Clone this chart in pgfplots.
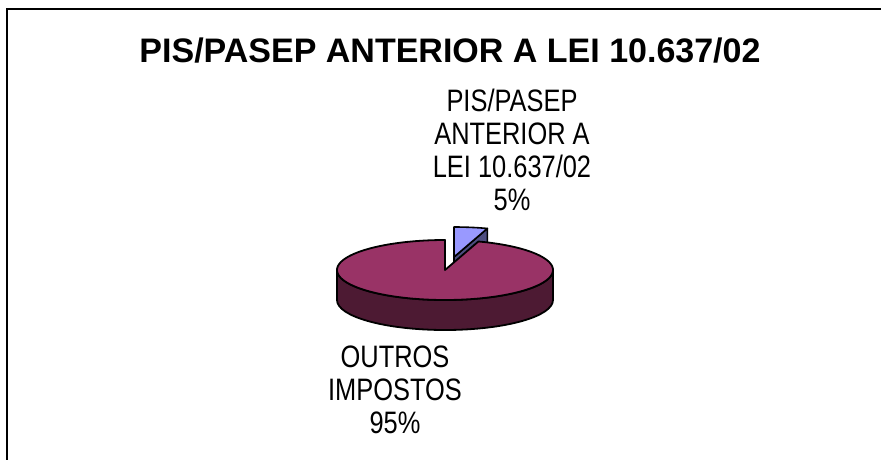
\documentclass[border=0pt]{standalone}
\usepackage{pgfplots}
\pgfplotsset{compat=1.18}
\usepackage{fontspec}
\setmainfont{Liberation Sans}
\newfontfamily\lblfont[FakeStretch=0.82]{Liberation Sans}
\definecolor{plum}{HTML}{993366}
\definecolor{plumdark}{HTML}{4D1A33}
\definecolor{lav}{HTML}{9999FF}
\definecolor{lavdark}{HTML}{4D4D80}
\begin{document}
\begin{tikzpicture}
% data (percent)
\def\pA{5}   % PIS/PASEP ANTERIOR A LEI 10.637/02
\def\pB{95}  % OUTROS IMPOSTOS
% geometry (pixels)
\def\cx{445}\def\cy{270}\def\ra{108}\def\rb{30}\def\dep{30}
\def\ox{9}\def\oy{13}
\pgfmathsetmacro\eA{90-3.6*\pA}
\pgfmathsetmacro\eB{90+3.6*\pB}
\pgfmathsetmacro\Ax{\cx+\ox}
\pgfmathsetmacro\Ay{\cy-\oy}
\pgfmathsetmacro\Px{\Ax+\ra*cos(\eA)}
\pgfmathsetmacro\Py{\Ay-\rb*sin(\eA)}
\pgfmathsetmacro\Pyd{\Py+\dep}
\pgfmathsetmacro\Ayd{\Ay+\dep}
\pgfmathsetmacro\Rx{\cx+\ra}
\pgfmathsetmacro\Ryd{\cy+\dep}
\begin{axis}[scale only axis, width=881pt, height=459pt,
  xmin=0, xmax=881, ymin=0, ymax=459, y dir=reverse,
  hide axis, clip=false]
% frame
\addplot[black, line width=1.8pt, line cap=rect] coordinates {(7,459) (7,9) (881,9)};
% exploded slice: radial face
\addplot[fill=lavdark, draw=black, line width=1.6pt, line join=round]
  coordinates {(\Ax,\Ay) (\Px,\Py) (\Px,\Pyd) (\Ax,\Ayd)} -- cycle;
% exploded slice: top
\addplot[fill=lav, draw=black, line width=1.6pt, line join=round, domain=\eA:90, samples=20, variable=\t]
  ({\Ax+\ra*cos(t)}, {\Ay-\rb*sin(t)}) -- (axis cs:\Ax,\Ay) -- cycle;
% big slice: front rim
\addplot[fill=plumdark, draw=black, line width=1.8pt, line join=round, domain=180:360, samples=80, variable=\t]
  ({\cx+\ra*cos(t)}, {\cy-\rb*sin(t)}) -- (axis cs:\Rx,\Ryd)
  arc[start angle=0, end angle=-180, x radius=\ra pt, y radius=\rb pt] -- cycle;
% big slice: top
\addplot[fill=plum, draw=black, line width=1.8pt, line join=round, domain=90:\eB, samples=150, variable=\t]
  ({\cx+\ra*cos(t)}, {\cy-\rb*sin(t)}) -- (axis cs:\cx,\cy) -- cycle;
% title
\node[font=\bfseries\fontsize{34}{40}\selectfont, anchor=base] at (axis cs:450,62) {PIS/PASEP ANTERIOR A LEI 10.637/02};
% labels
\begin{scope}[every node/.style={font=\lblfont\fontsize{31}{33}\selectfont, anchor=base, inner sep=0pt}]
\node at (axis cs:512,111.5) {PIS/PASEP};
\node at (axis cs:512,144.5) {ANTERIOR A};
\node at (axis cs:512,177.5) {LEI 10.637/02};
\node at (axis cs:512,210.5) {5\%};
\node at (axis cs:395,367) {OUTROS};
\node at (axis cs:395,400) {IMPOSTOS};
\node at (axis cs:395,433) {95\%};
\end{scope}
\end{axis}
\pgfresetboundingbox
\useasboundingbox (0,0) rectangle (881pt,459pt);
\end{tikzpicture}
\end{document}
